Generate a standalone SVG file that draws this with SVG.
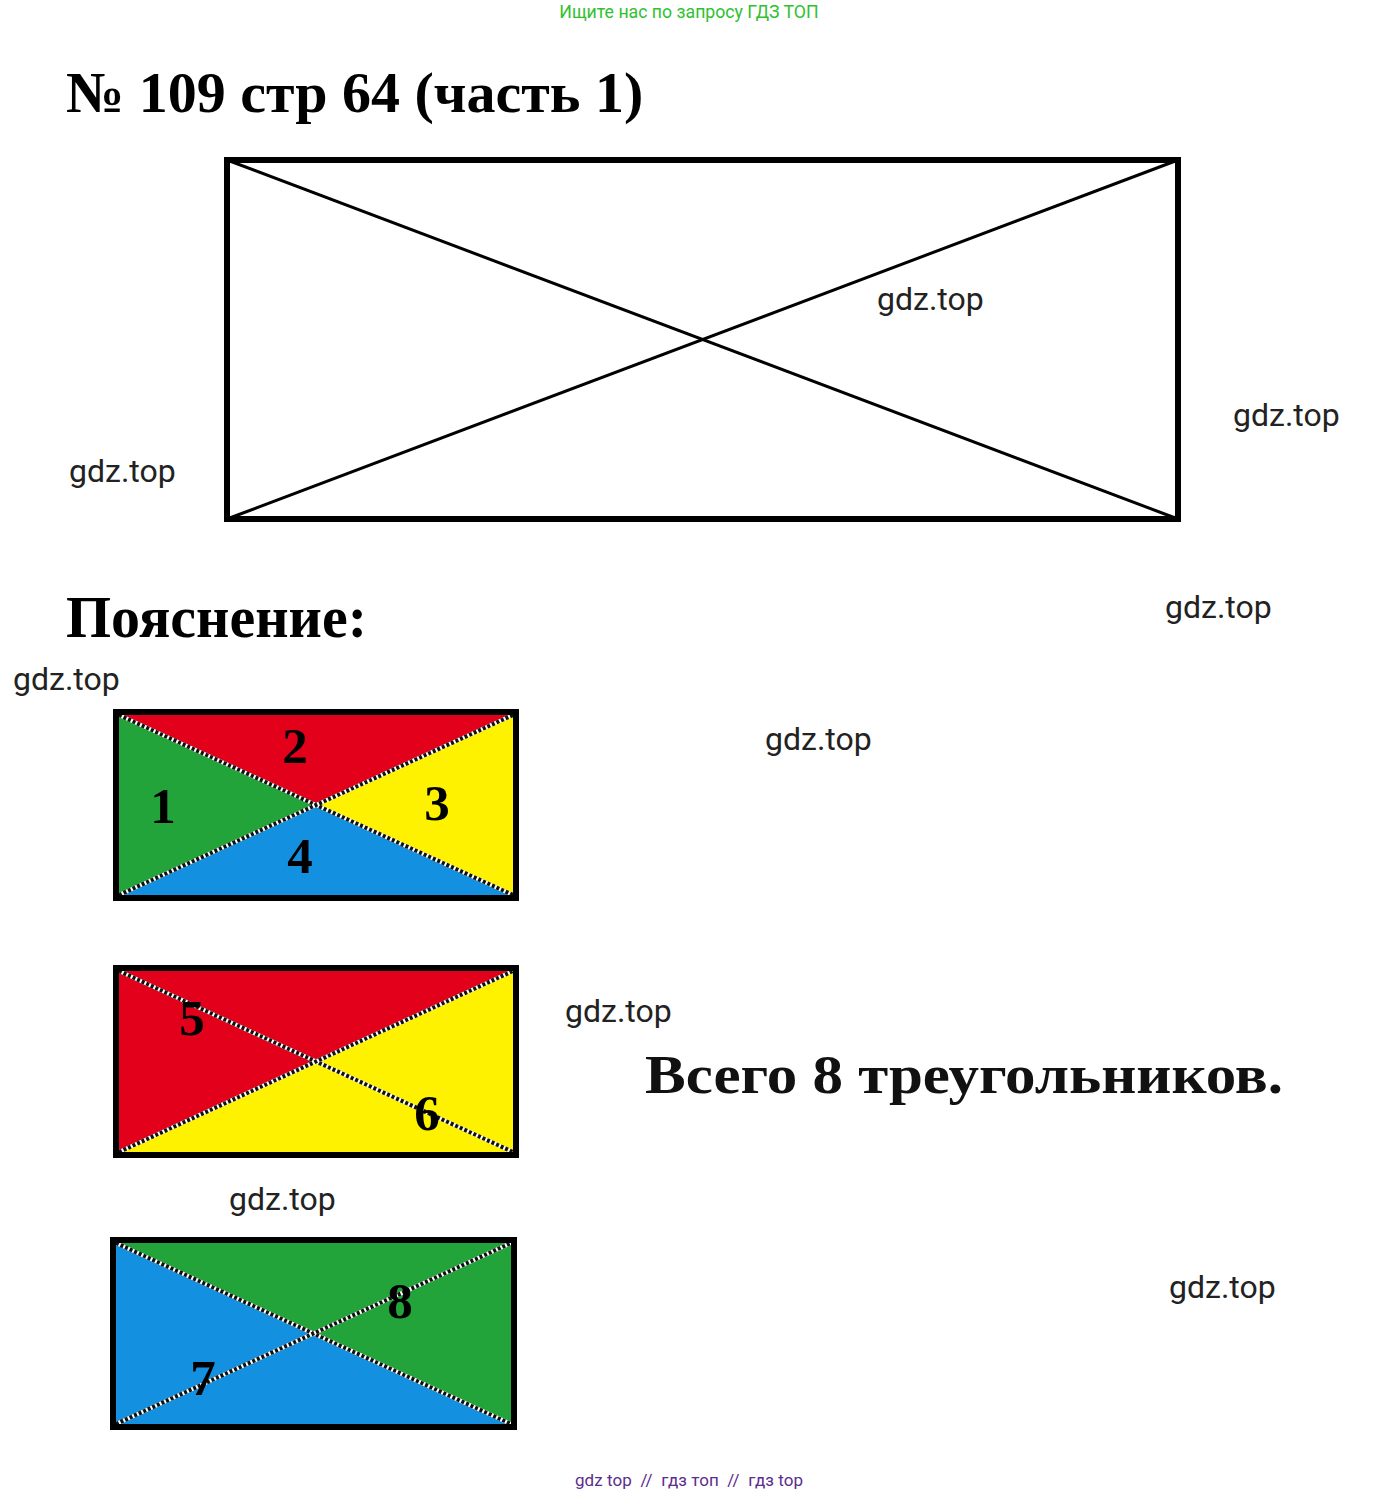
<svg xmlns="http://www.w3.org/2000/svg" width="1380" height="1495" viewBox="0 0 1380 1495">
<style>
.wm{font-family:Roboto,"Liberation Sans",sans-serif;font-size:32px;fill:#222}
.serif{font-family:"Liberation Serif","Times New Roman",serif;font-weight:bold;fill:#000}
.num{font-family:"Liberation Serif","Times New Roman",serif;font-weight:bold;font-size:51px;fill:#000;text-anchor:middle}
.frame{fill:none;stroke:#000;stroke-width:6}
.dw{stroke:#fff;stroke-width:4;fill:none}
.db{stroke:#111;stroke-width:4;stroke-dasharray:3 2;fill:none}
.red{fill:#e2001a}.green{fill:#22a43a}.yellow{fill:#fff200}.blue{fill:#1490e0}
</style>
<rect width="1380" height="1495" fill="#fff"/>
<text x="689" y="18" text-anchor="middle" style="font-family:Roboto,'Liberation Sans',sans-serif;font-size:17.7px;fill:#2fc12f">Ищите нас по запросу ГДЗ ТОП</text>
<text id="title" class="serif" x="66" y="112" style="font-size:58px">№ 109 стр 64 (часть 1)</text>
<g id="main-rect">
<rect class="frame" x="227" y="160" width="951" height="359"/>
<line x1="227" y1="160" x2="1178" y2="519" stroke="#000" stroke-width="3"/>
<line x1="227" y1="519" x2="1178" y2="160" stroke="#000" stroke-width="3"/>
</g>
<text id="expl" class="serif" x="66" y="637" style="font-size:60px" textLength="301" lengthAdjust="spacingAndGlyphs">Пояснение:</text>
<g id="rect1">
<polygon class="green" points="119,715 316,805 119,895"/>
<polygon class="red" points="119,715 513,715 316,805"/>
<polygon class="yellow" points="513,715 513,895 316,805"/>
<polygon class="blue" points="119,895 316,805 513,895"/>
<line class="dw" x1="119" y1="715" x2="513" y2="895"/><line class="db" x1="119" y1="715" x2="513" y2="895"/>
<line class="dw" x1="119" y1="895" x2="513" y2="715"/><line class="db" x1="119" y1="895" x2="513" y2="715"/>
<rect class="frame" x="116" y="712" width="400" height="186"/>
<text class="num" x="163" y="823">1</text>
<text class="num" x="295" y="763">2</text>
<text class="num" x="437" y="820">3</text>
<text class="num" x="300" y="873">4</text>
</g>
<g id="rect2">
<polygon class="red" points="119,971 513,971 316,1062 119,1152"/>
<polygon class="yellow" points="513,971 513,1152 119,1152 316,1062"/>
<line class="dw" x1="119" y1="971" x2="513" y2="1152"/><line class="db" x1="119" y1="971" x2="513" y2="1152"/>
<line class="dw" x1="119" y1="1152" x2="513" y2="971"/><line class="db" x1="119" y1="1152" x2="513" y2="971"/>
<rect class="frame" x="116" y="968" width="400" height="187"/>
<text class="num" x="192" y="1035">5</text>
<text class="num" x="427" y="1130">6</text>
</g>
<g id="rect3">
<polygon class="blue" points="116,1243 313,1334 511,1424 116,1424"/>
<polygon class="green" points="116,1243 511,1243 511,1424 313,1334"/>
<line class="dw" x1="116" y1="1243" x2="511" y2="1424"/><line class="db" x1="116" y1="1243" x2="511" y2="1424"/>
<line class="dw" x1="116" y1="1424" x2="511" y2="1243"/><line class="db" x1="116" y1="1424" x2="511" y2="1243"/>
<rect class="frame" x="113" y="1240" width="401" height="187"/>
<text class="num" x="400" y="1318">8</text>
<text class="num" x="203" y="1395">7</text>
</g>
<text id="total" class="serif" x="645" y="1093" style="font-size:54px;fill:#111" textLength="638" lengthAdjust="spacingAndGlyphs">Всего 8 треугольников.</text>
<g id="watermarks">
<text class="wm" x="877" y="310">gdz.top</text>
<text class="wm" x="1233" y="426">gdz.top</text>
<text class="wm" x="69" y="482">gdz.top</text>
<text class="wm" x="1165" y="618">gdz.top</text>
<text class="wm" x="13" y="690">gdz.top</text>
<text class="wm" x="765" y="750">gdz.top</text>
<text class="wm" x="565" y="1022">gdz.top</text>
<text class="wm" x="229" y="1210">gdz.top</text>
<text class="wm" x="1169" y="1298">gdz.top</text>
</g>
<text x="689" y="1486" text-anchor="middle" style="font-family:Roboto,'Liberation Sans',sans-serif;font-size:17px;fill:#5b2d8e" xml:space="preserve" textLength="228" lengthAdjust="spacing">gdz top  //  гдз топ  //  гдз top</text>
</svg>
